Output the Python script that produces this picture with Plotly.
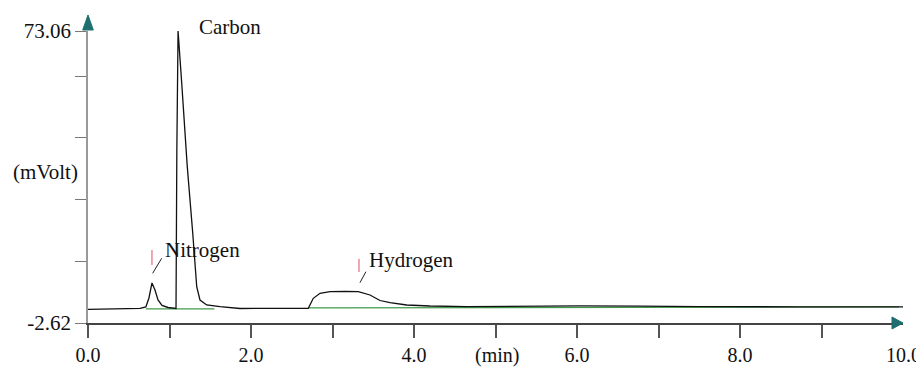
import plotly.graph_objects as go

# ---- data ----
time_min = [0.00, 0.39, 0.64, 0.71, 0.748, 0.785, 0.822, 0.859, 0.908, 0.982, 1.055,
            1.080, 1.090, 1.098, 1.105, 1.150, 1.218, 1.285, 1.334, 1.374, 1.456, 1.62,
            1.865, 2.60, 2.703, 2.764, 2.847, 2.969, 3.153, 3.317, 3.460, 3.583, 3.706,
            3.91, 4.196, 4.65, 5.215, 6.04, 6.77, 7.51, 8.74, 10.0]
signal_mv = [0.93, 1.06, 1.19, 1.53, 3.86, 7.75, 5.93, 3.34, 1.92, 1.40, 1.14,
             1.14, 42.2, 70.7, 73.06, 59.5, 37.9, 20.7, 6.79, 3.34, 2.05, 1.61,
             1.14, 1.19, 1.19, 3.78, 5.08, 5.49, 5.60, 5.49, 4.64, 3.21, 2.64,
             2.05, 1.79, 1.60, 1.73, 1.84, 1.73, 1.60, 1.58, 1.58]

baseline1_t = [0.71, 1.55]
baseline1_v = [1.05, 1.05]
baseline2_t = [2.70, 9.95]
baseline2_v = [1.30, 1.55]

peak_names = ["Nitrogen", "Carbon", "Hydrogen"]
peak_times = [0.785, 1.105, 3.325]
label_x = [0.92, 1.34, 3.42]
label_y = [16.3, 1.0137, 13.7]          # Carbon sits above the plot area (paper units)
label_yref = ["y", "paper", "y"]

y_min, y_max = -2.62, 73.06
x_tickvals = [0, 1, 2, 3, 4, 5, 6, 7, 8, 9]
x_ticktext = ["0.0", "", "2.0", "", "4.0", "", "6.0", "", "8.0", ""]
y_tickvals = [-2.62, 13.38, 29.38, 45.38, 61.38, 73.06]
y_ticktext = ["-2.62", "", "", "", "", "73.06"]

FONT = "Liberation Serif"
TEAL = "#1e6e70"
FS = 21

fig = go.Figure()
fig.add_trace(go.Scatter(x=baseline1_t, y=baseline1_v, mode="lines",
                         line=dict(color="#3f9a4a", width=1.2), hoverinfo="skip"))
fig.add_trace(go.Scatter(x=baseline2_t, y=baseline2_v, mode="lines",
                         line=dict(color="#3f9a4a", width=1.2), hoverinfo="skip"))
fig.add_trace(go.Scatter(x=time_min, y=signal_mv, mode="lines",
                         line=dict(color="#111111", width=1.3)))

# red peak markers and leader lines
marker_top = [16.3, None, 14.0]
marker_bot = [12.4, None, 10.6]
for i, name in enumerate(peak_names):
    if marker_top[i] is not None:
        fig.add_trace(go.Scatter(x=[peak_times[i], peak_times[i]], y=[marker_bot[i], marker_top[i]],
                                 mode="lines", line=dict(color="#e05060", width=1)))
leader_x = [[0.793, 0.904], [3.337, 3.41]]
leader_y = [[10.26, 14.15], [7.83, 10.68]]
for lx, ly in zip(leader_x, leader_y):
    fig.add_trace(go.Scatter(x=lx, y=ly, mode="lines", line=dict(color="#222222", width=1)))

# axis arrows (decorations, paper coordinates)
fig.add_shape(type="path", xref="paper", yref="paper",
              path="M -0.0065 1.0034 L 0 1.0548 L 0.0065 1.0034 Z",
              fillcolor=TEAL, line=dict(color=TEAL, width=1))
fig.add_shape(type="path", xref="paper", yref="paper",
              path="M 0.9865 0.0205 L 1.0 0 L 0.9865 -0.0205 Z",
              fillcolor=TEAL, line=dict(color=TEAL, width=1))

for i, name in enumerate(peak_names):
    fig.add_annotation(x=label_x[i], y=label_y[i], yref=label_yref[i], text=name,
                       showarrow=False, xanchor="left", yanchor="middle",
                       font=dict(family=FONT, size=FS, color="#111111"))

fig.add_annotation(x=10.0, y=0, yref="paper", text="10.0", showarrow=False,
                   xanchor="center", yanchor="top", yshift=-19,
                   font=dict(family=FONT, size=20, color="#111111"))
fig.add_annotation(x=5.02, y=0, yref="paper", text="(min)", showarrow=False,
                   xanchor="center", yanchor="top", yshift=-19,
                   font=dict(family=FONT, size=20, color="#111111"))
fig.add_annotation(x=-0.052, xref="paper", y=36.5, text="(mVolt)", showarrow=False,
                   xanchor="center", yanchor="middle",
                   font=dict(family=FONT, size=FS, color="#111111"))

# the page body adds an 8px offset, so the figure is sized to fit the window
fig.update_layout(
    width=916, height=359,
    margin=dict(l=80, r=21, t=23, b=44, autoexpand=False),
    plot_bgcolor="white", paper_bgcolor="white",
    showlegend=False,
    font=dict(family=FONT, size=FS, color="#111111"),
    xaxis=dict(range=[0, 10], showgrid=False, zeroline=False, automargin=False,
               showline=True, linecolor="#444444", linewidth=1.5,
               tickvals=x_tickvals, ticktext=x_ticktext,
               ticks="outside", ticklen=13, tickcolor="#555555", tickwidth=1.5,
               tickfont=dict(family=FONT, size=20, color="#111111")),
    yaxis=dict(range=[y_min, y_max], showgrid=False, zeroline=False, automargin=False,
               showline=True, linecolor="#999999", linewidth=1.5,
               tickvals=y_tickvals, ticktext=y_ticktext,
               ticks="outside", ticklen=11, tickcolor="#777777", tickwidth=1.2,
               tickfont=dict(family=FONT, size=FS, color="#111111")),
)

fig.write_html("out.html")
